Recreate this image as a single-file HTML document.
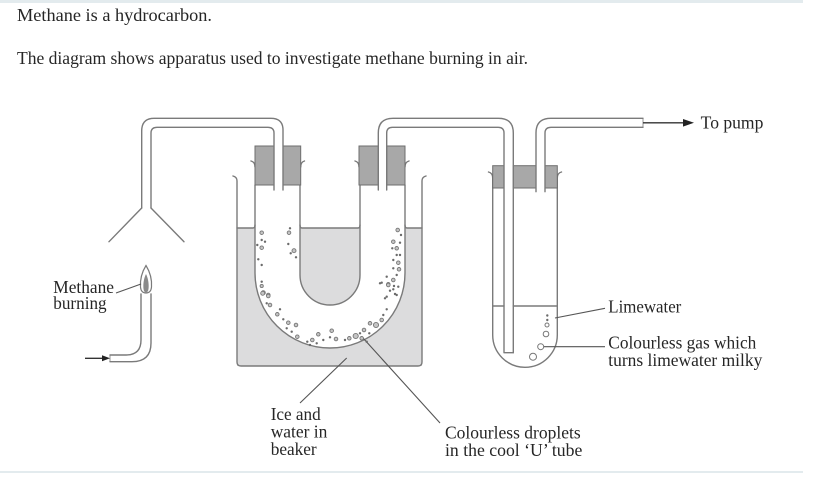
<!DOCTYPE html>
<html>
<head>
<meta charset="utf-8">
<style>
  html,body{margin:0;padding:0;background:#fff;}
  body{width:830px;height:495px;overflow:hidden;}
  svg{display:block;}
  text{font-family:"Liberation Serif","DejaVu Serif",serif;fill:#262626;font-size:17.5px;}
</style>
</head>
<body>
<svg width="830" height="495" viewBox="0 0 830 495" xmlns="http://www.w3.org/2000/svg">
  <!-- borders -->
  <rect x="0" y="0" width="803" height="3" fill="#e3ebee"/>
  <rect x="0" y="471" width="803" height="2" fill="#e3ebee"/>

  <!-- heading text -->
  <text x="17" y="21" textLength="195" lengthAdjust="spacingAndGlyphs">Methane is a hydrocarbon.</text>
  <text x="17" y="64" textLength="511" lengthAdjust="spacingAndGlyphs">The diagram shows apparatus used to investigate methane burning in air.</text>

  <!-- beaker water -->
  <rect x="237" y="228" width="185" height="138" fill="#dcdcdd"/>
  <!-- U tube interior (white) -->
  <path d="M255,185 V273 A75,75 0 0 0 405,273 V185 Z" fill="#ffffff"/>
  <!-- inner U water -->
  <path d="M300,228 V275 A30,30 0 0 0 360,275 V228 Z" fill="#dcdcdd"/>

  <g fill="none" stroke="#7a7a7a" stroke-width="1.4" stroke-linecap="round" stroke-linejoin="round">
    <!-- beaker -->
    <path d="M233,176 Q237,177 237,181 V362 Q237,366 241,366 H418 Q422,366 422,362 V181 Q422,177 426,176"/>
    <!-- water lines -->
    <path d="M237,228 H253 Q255,228 255,225"/>
    <path d="M405,225 Q405,228 407,228 H422"/>
    <path d="M300,225 Q300,228 302,228 H358 Q360,228 360,225"/>
    <!-- U tube outer -->
    <path d="M255,185 V273 A75,75 0 0 0 405,273 V185"/>
    <!-- U tube inner -->
    <path d="M300,185 V275 A30,30 0 0 0 360,275 V185"/>
    <!-- U tube rim hooks -->
    <path d="M251,161 Q255,162 255,167"/>
    <path d="M304.5,161 Q300.7,162 300.7,167"/>
    <path d="M355,161 Q359,162 359,167"/>
    <path d="M409,161 Q405,162 405,167"/>

    <!-- test tube -->
    <path d="M488.5,172 Q492.7,173 492.7,178 V335 A32.3,32.3 0 0 0 557.3,335 V178 Q557.3,173 561.5,172"/>
    <path d="M492.7,306 H504"/>
    <path d="M513.3,306 H557.3"/>
  </g>

  <!-- stoppers -->
  <g fill="#a8a8a8" stroke="#6e6e6e" stroke-width="1">
    <rect x="255" y="146" width="19" height="39"/>
    <rect x="283" y="146" width="17.7" height="39"/>
    <rect x="359" y="146" width="19.3" height="39"/>
    <rect x="386.7" y="146" width="18.3" height="39"/>
    <rect x="492.7" y="165.7" width="11.3" height="22.3"/>
    <rect x="513.3" y="165.7" width="22.7" height="22.3"/>
    <rect x="545" y="165.7" width="12.3" height="22.3"/>
  </g>

  <g fill="none" stroke="#7a7a7a" stroke-width="1.4" stroke-linecap="round" stroke-linejoin="round">
    <!-- pipe 1 -->
    <path d="M141.7,208 V131 Q141.7,118.3 154,118.3 H271 Q283,118.3 283,130 V190"/>
    <path d="M151,208 V133 Q151,127.3 157,127.3 H268 Q274,127.3 274,133 V190"/>
    <path d="M141.7,208 L109,241.7"/>
    <path d="M151,208 L184,241.7"/>
    <!-- pipe 2 -->
    <path d="M378.3,190 V133 Q378.3,118.3 393,118.3 H498.6 Q513.3,118.3 513.3,133 V352.7"/>
    <path d="M386.7,190 V133 Q386.7,127.3 392.4,127.3 H498.3 Q504,127.3 504,133 V352.7 H513.3"/>
    <!-- pipe 3 -->
    <path d="M536,191.7 V133 Q536,118.3 550.7,118.3 H643"/>
    <path d="M545,191.7 V133 Q545,127.3 551,127.3 H643"/>
    <path d="M643,118.3 V127.3" stroke-width="0.8"/>
    <!-- burner tube -->
    <path d="M141,294 V340 Q141,355 126,355 H110"/>
    <path d="M151,294 V343 Q151,361.7 132,361.7 H110"/>
    <path d="M110,355 V361.7" stroke-width="0.8"/>
  </g>

  <!-- arrows -->
  <g stroke="#333" stroke-width="1.3">
    <path d="M643,122.8 H686"/>
    <path d="M85,358.3 H103"/>
  </g>
  <polygon points="694,122.8 683,119 683,126.6" fill="#222"/>
  <polygon points="110,358.3 102,355.3 102,361.3" fill="#222"/>

  <!-- flame -->
  <path d="M146,265.5 C150,272 152,280 151.5,287 Q151,293 146,293 Q141,293 140.5,287 C140,280 142,272 146,265.5 Z" fill="#fff" stroke="#7a7a7a" stroke-width="1.2"/>
  <path d="M146,274 C148.5,279 149,285 148.5,289 Q148,292.5 146,292.5 Q144,292.5 143.5,289 C143,285 143.5,279 146,274 Z" fill="#8a8a8a"/>

  <!-- label lines -->
  <g stroke="#555" stroke-width="1.1" fill="none">
    <path d="M116,293 L141,284"/>
    <path d="M555,318 L605,308.3"/>
    <path d="M544,346.7 L605,346.7"/>
    <path d="M363,338 L440,423"/>
    <path d="M346.7,358 L300,403"/>
  </g>

  <!-- droplets: dots -->
  <g fill="#6b6b6b">
    <circle cx="261.7" cy="240" r="1.2"/><circle cx="265" cy="241.7" r="1.2"/>
    <circle cx="257.3" cy="245" r="1.2"/><circle cx="258.3" cy="259.3" r="1.2"/>
    <circle cx="261.7" cy="265" r="1.2"/><circle cx="261.7" cy="281.7" r="1.2"/>
    <circle cx="290" cy="228.3" r="1.2"/><circle cx="288.3" cy="244" r="1.2"/>
    <circle cx="290.7" cy="253.3" r="1.2"/><circle cx="296" cy="257.3" r="1.2"/>
    <circle cx="401" cy="235" r="1.2"/><circle cx="400" cy="242.7" r="1.2"/>
    <circle cx="392.3" cy="248.3" r="1.2"/><circle cx="396.7" cy="255" r="1.2"/>
    <circle cx="400" cy="255" r="1.2"/><circle cx="393.3" cy="260" r="1.2"/>
    <circle cx="393.3" cy="268.3" r="1.2"/><circle cx="396.7" cy="275" r="1.2"/>
    <circle cx="386.7" cy="276.7" r="1.2"/><circle cx="381.7" cy="282.7" r="1.2"/>
    <circle cx="394" cy="286" r="1.2"/><circle cx="398.3" cy="286.7" r="1.2"/>
    <circle cx="390" cy="290.7" r="1.2"/><circle cx="395" cy="294" r="1.2"/>
    <circle cx="386.7" cy="296.7" r="1.2"/>
    <circle cx="266.7" cy="303.3" r="1.2"/><circle cx="280" cy="309.3" r="1.2"/>
    <circle cx="283.3" cy="319.3" r="1.2"/><circle cx="286.7" cy="328.3" r="1.2"/>
    <circle cx="291.7" cy="331.7" r="1.2"/><circle cx="307.3" cy="341.7" r="1.2"/>
    <circle cx="310" cy="345" r="1.2"/><circle cx="323.3" cy="340" r="1.2"/>
    <circle cx="316.7" cy="343.3" r="1.2"/><circle cx="330" cy="337.3" r="1.2"/>
    <circle cx="345" cy="340" r="1.2"/><circle cx="360" cy="333.3" r="1.2"/>
    <circle cx="369.3" cy="333.3" r="1.2"/><circle cx="383.3" cy="315" r="1.2"/>
    <circle cx="386.7" cy="309.3" r="1.2"/><circle cx="380" cy="283.3" r="1.2"/>
    <circle cx="393.3" cy="289.3" r="1.2"/><circle cx="396.7" cy="295" r="1.2"/>
    <circle cx="385" cy="298.3" r="1.2"/><circle cx="366.7" cy="341.7" r="1.2"/>
    <circle cx="547.3" cy="315.5" r="1.2"/><circle cx="547.3" cy="320" r="1.2"/>
  </g>
  <!-- droplets: rings -->
  <g fill="#c4c4c4" stroke="#777" stroke-width="0.9">
    <circle cx="261.7" cy="232.7" r="1.8"/><circle cx="261.7" cy="247.7" r="1.8"/>
    <circle cx="261.7" cy="286" r="1.6"/><circle cx="263.3" cy="292.7" r="2"/>
    <circle cx="268.3" cy="295" r="1.8"/><circle cx="289" cy="232.7" r="1.8"/>
    <circle cx="294" cy="250.7" r="2"/><circle cx="397.7" cy="230" r="1.8"/>
    <circle cx="393.3" cy="241.7" r="1.8"/><circle cx="396.7" cy="248.3" r="1.8"/>
    <circle cx="398.3" cy="262.7" r="1.8"/><circle cx="399" cy="269.3" r="1.8"/>
    <circle cx="393.3" cy="280" r="1.8"/><circle cx="388.3" cy="284.3" r="1.8"/>
    <circle cx="262.7" cy="293.3" r="2"/><circle cx="268.3" cy="296" r="1.8"/>
    <circle cx="270" cy="305" r="1.8"/><circle cx="277.3" cy="314.3" r="1.8"/>
    <circle cx="288.3" cy="322.7" r="1.8"/><circle cx="296" cy="325" r="1.8"/>
    <circle cx="297.3" cy="336.7" r="1.8"/><circle cx="312.3" cy="340" r="1.8"/>
    <circle cx="318.3" cy="334.3" r="1.8"/><circle cx="331.7" cy="330.7" r="1.8"/>
    <circle cx="336" cy="339" r="1.8"/><circle cx="349.3" cy="338.3" r="1.8"/>
    <circle cx="355.7" cy="336" r="2.6"/><circle cx="364" cy="330" r="1.8"/>
    <circle cx="361.7" cy="338.3" r="1.8"/><circle cx="370" cy="323.3" r="1.8"/>
    <circle cx="376" cy="325" r="2.6"/><circle cx="381.7" cy="320" r="1.8"/>
    <circle cx="388.3" cy="285" r="1.8"/>
  </g>
  <!-- limewater bubbles -->
  <g fill="#fff" stroke="#777" stroke-width="1">
    <circle cx="547" cy="325" r="2"/>
    <circle cx="546" cy="334" r="2.8"/>
    <circle cx="540.7" cy="346.7" r="3"/>
    <circle cx="533" cy="356.7" r="3.5"/>
  </g>

  <!-- labels -->
  <text x="700.7" y="128.3" textLength="62.7" lengthAdjust="spacingAndGlyphs">To pump</text>
  <text x="53.3" y="293" textLength="60.7" lengthAdjust="spacingAndGlyphs">Methane</text>
  <text x="53.3" y="309" textLength="53.3" lengthAdjust="spacingAndGlyphs">burning</text>
  <text x="608.3" y="312.7" textLength="73" lengthAdjust="spacingAndGlyphs">Limewater</text>
  <text x="608.3" y="348.3" textLength="148" lengthAdjust="spacingAndGlyphs">Colourless gas which</text>
  <text x="608.3" y="366" textLength="154" lengthAdjust="spacingAndGlyphs">turns limewater milky</text>
  <text x="270.7" y="420" textLength="50" lengthAdjust="spacingAndGlyphs">Ice and</text>
  <text x="270.7" y="437.7" textLength="56.7" lengthAdjust="spacingAndGlyphs">water in</text>
  <text x="270.7" y="455" textLength="46" lengthAdjust="spacingAndGlyphs">beaker</text>
  <text x="445" y="438.3" textLength="135.7" lengthAdjust="spacingAndGlyphs">Colourless droplets</text>
  <text x="445" y="456" textLength="137.3" lengthAdjust="spacingAndGlyphs">in the cool ‘U’ tube</text>
</svg>
</body>
</html>
